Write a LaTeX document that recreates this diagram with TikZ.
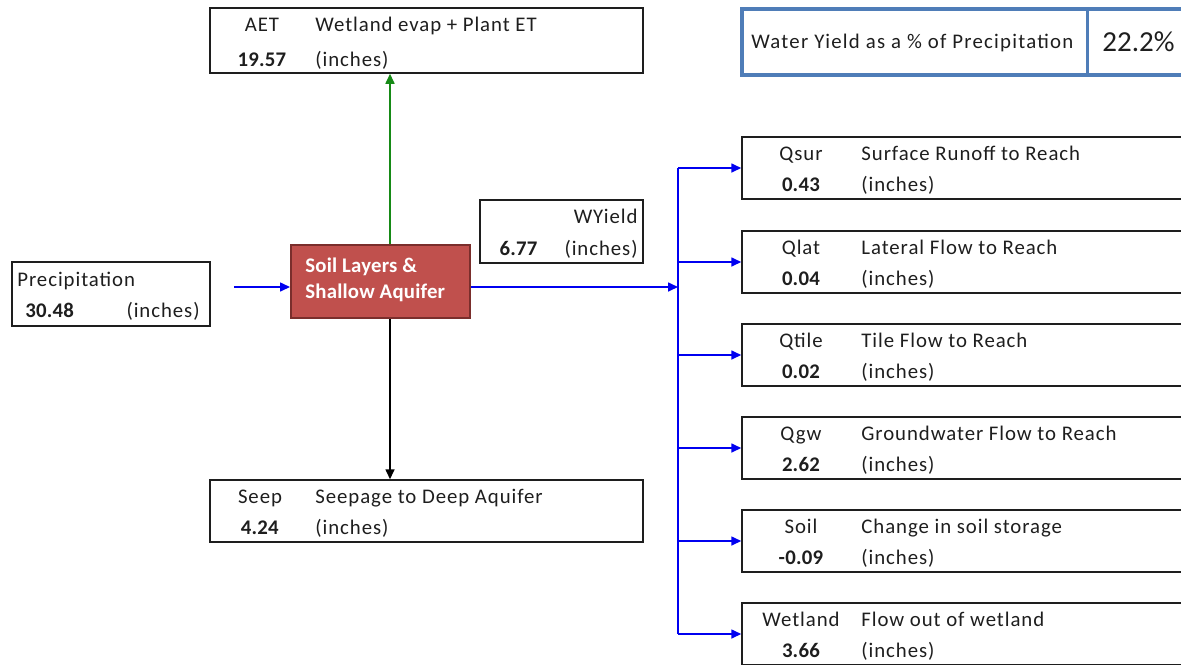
\documentclass[tikz,border=0pt]{standalone}
\usepackage{fontspec}
\setmainfont{Carlito}[LetterSpace=4.5, BoldFeatures={LetterSpace=1}]
\usetikzlibrary{arrows.meta}
\definecolor{soilred}{HTML}{C0504D}
\definecolor{soiledge}{HTML}{7A2E2C}
\definecolor{yieldblue}{HTML}{4F7DB8}
\definecolor{etgreen}{HTML}{168A16}
\definecolor{flowblue}{HTML}{0000F0}
\definecolor{ink}{HTML}{1E1E1E}

\begin{document}
\begin{tikzpicture}[
  x=0.5pt, y=-0.5pt,
  every node/.style={font=\fontsize{10.4}{12.5}\selectfont, text=ink},
  box/.style={draw=ink, line width=0.75pt, inner sep=0pt},
  txt/.style={inner sep=0pt, anchor=base},
  tip/.style={-{Triangle[length=5pt, width=4.5pt]}},
  flow/.style={draw=flowblue, line width=0.8pt, tip},
  etflow/.style={draw=etgreen, line width=0.8pt, tip},
  seepflow/.style={draw=black, line width=0.8pt, tip}
]
\useasboundingbox (0,0) rectangle (1181,664);
\clip (0,0) rectangle (1181,664);

% centre store
\node[draw=soiledge, fill=soilred, line width=1pt, minimum width=89.5pt, minimum height=36.5pt] (aquifer) at (380.5,281.5) {};
\node[txt, anchor=base west, text=white, font=\fontsize{10.4}{12.5}\selectfont\bfseries] (aquifer1) at (305,272) {Soil Layers \&};
\node[txt, anchor=base west, text=white, font=\fontsize{10.4}{12.5}\selectfont\bfseries] (aquifer2) at (305,298) {Shallow Aquifer};

% AET
\node[box, minimum width=216.5pt, minimum height=32.5pt] (aet) at (426.5,40.5) {};
\node[txt] (aetlab) at (262,31) {AET};
\node[txt, anchor=base west] (aetdesc) at (315,31) {Wetland evap + Plant ET};
\node[txt] (aetval) at (262,66) {\textbf{19.57}};
\node[txt, anchor=base west] (aetunit) at (315,66) {(inches)};

% seepage
\node[box, minimum width=216.5pt, minimum height=31pt] (seep) at (426.5,511) {};
\node[txt] (seeplab) at (260,503) {Seep};
\node[txt, anchor=base west] (seepdesc) at (315,503) {Seepage to Deep Aquifer};
\node[txt] (seepval) at (260,534) {\textbf{4.24}};
\node[txt, anchor=base west] (seepunit) at (315,534) {(inches)};

% precipitation
\node[box, minimum width=99pt, minimum height=32pt] (precip) at (111,294) {};
\node[txt, anchor=base west] (preciplab) at (17,286) {Precipitation};
\node[txt, anchor=base west] (precipval) at (25,317) {\textbf{30.48}};
\node[txt, anchor=base east] (precipunit) at (200,317) {(inches)};

% water yield
\node[box, minimum width=81.5pt, minimum height=31.5pt] (wyield) at (561.5,231.5) {};
\node[txt, anchor=base east] (wyieldlab) at (638,223) {WYield};
\node[txt, anchor=base east] (wyieldunit) at (638,255) {(inches)};
\node[txt, anchor=base east] (wyieldval) at (538,255) {\textbf{6.77}};

% yield ratio
\node[draw=yieldblue, line width=2pt, minimum width=226.5pt, minimum height=33pt] (ratio) at (968.5,42) {};
\coordinate (split) at (1087,42);
\draw[draw=yieldblue, line width=1.5pt] (ratio.north -| split) -- (ratio.south -| split);
\node[txt, anchor=base west, font=\fontsize{10.4}{12.5}\selectfont\addfontfeature{LetterSpace=6}] (ratiolab) at (751,48) {Water Yield as a \% of Precipitation};
\node[txt, anchor=base west, font=\fontsize{14.5}{17}\selectfont\addfontfeature{LetterSpace=0}] (ratioval) at (1102,51) {22.2\%};

% flows in, up and down
\coordinate (rain) at (234,287);
\coordinate (etx) at (390,0);
\draw[flow] (rain) -- (aquifer.west |- rain);
\draw[etflow] (aquifer.north -| etx) -- (aet.south -| etx);
\draw[seepflow] (aquifer.south -| etx) -- (seep.north -| etx);

% flows to reach
\coordinate (bus) at (678,287);
\draw[flow] (aquifer.east |- bus) -- (bus);
\foreach \nm/\yt/\lab/\val/\desc in {
  qsur/137/Qsur/0.43/Surface Runoff to Reach,
  qlat/231/Qlat/0.04/Lateral Flow to Reach,
  qtile/324/Qtile/0.02/Tile Flow to Reach,
  qgw/417/Qgw/2.62/Groundwater Flow to Reach,
  soil/510/Soil/-0.09/Change in soil storage,
  wetland/603/Wetland/3.66/Flow out of wetland}
{
  \node[box, minimum width=224pt, minimum height=31pt] (\nm) at (966,\yt+31) {};
  \node[txt] (\nm-lab) at (801,\yt+23.5) {\lab};
  \node[txt, anchor=base west] (\nm-desc) at (861,\yt+23.5) {\desc};
  \node[txt] (\nm-val) at (801,\yt+54.5) {\textbf{\val}};
  \node[txt, anchor=base west] (\nm-unit) at (861,\yt+54.5) {(inches)};
  \draw[flow] (\nm.west -| bus) -- (\nm.west);
}
\draw[draw=flowblue, line width=0.8pt] (qsur.west -| bus) -- (wetland.west -| bus);
\end{tikzpicture}
\end{document}
